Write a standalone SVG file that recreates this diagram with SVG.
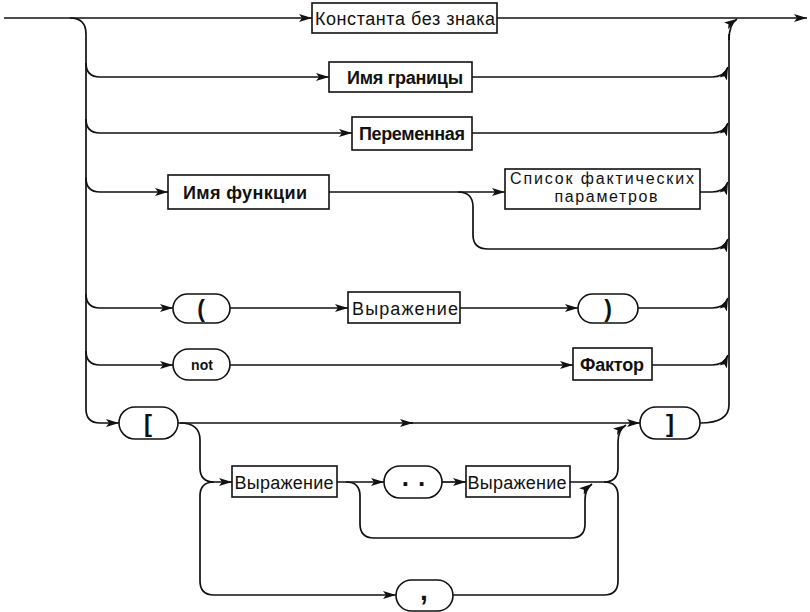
<svg xmlns="http://www.w3.org/2000/svg" width="810" height="612" viewBox="0 0 810 612">
<style>
.c{fill:none;stroke:#111;stroke-width:1.7}
.b{fill:#fff;stroke:#111;stroke-width:1.6}
.t{font-family:"Liberation Sans",Arial,sans-serif;font-size:18px;fill:#111;text-anchor:middle}
.w{font-weight:bold}
.t2{font-size:16px}
.s{font-family:"Liberation Sans",Arial,sans-serif;font-weight:bold;fill:#111;text-anchor:middle}
</style>
<defs>
<marker id="a" viewBox="0 0 13 8" refX="13" refY="4" markerWidth="13" markerHeight="8" orient="auto" markerUnits="userSpaceOnUse">
<path d="M0,0 L13,4 L0,8 L3,4 z" fill="#111"/>
</marker>
</defs>
<rect width="810" height="612" fill="#fff"/>
<g id="connectors">
<path class="c" d="M4,18 H312" marker-end="url(#a)"/>
<path class="c" d="M497,18 H807" marker-end="url(#a)"/>
<path class="c" d="M70,18 Q86,18 86,34 V409 Q86,423 100,423 H119" marker-end="url(#a)"/>
<path class="c" d="M86,63 Q86,77 100,77 H329" marker-end="url(#a)"/>
<path class="c" d="M86,119 Q86,133 100,133 H352" marker-end="url(#a)"/>
<path class="c" d="M86,178 Q86,192 100,192 H168" marker-end="url(#a)"/>
<path class="c" d="M86,294 Q86,308 100,308 H173" marker-end="url(#a)"/>
<path class="c" d="M86,351 Q86,365 100,365 H173" marker-end="url(#a)"/>
<path class="c" d="M700,423 Q729,423 729,405 V34"/>
<path class="c" d="M729,40 Q729,24 737,19" marker-end="url(#a)"/>
<path class="c" d="M472,77 H712 Q724,77 728,67" marker-end="url(#a)"/>
<path class="c" d="M472,133 H712 Q724,133 728,123" marker-end="url(#a)"/>
<path class="c" d="M329,192 H505" marker-end="url(#a)"/>
<path class="c" d="M700,192 H712 Q724,192 728,182" marker-end="url(#a)"/>
<path class="c" d="M458,192 Q473,192 473,207 V235 Q473,249 488,249 H712 Q724,249 728,239" marker-end="url(#a)"/>
<path class="c" d="M230,308 H348" marker-end="url(#a)"/>
<path class="c" d="M460,308 H578" marker-end="url(#a)"/>
<path class="c" d="M638,308 H712 Q724,308 728,298" marker-end="url(#a)"/>
<path class="c" d="M230,365 H573" marker-end="url(#a)"/>
<path class="c" d="M652,365 H712 Q724,365 728,355" marker-end="url(#a)"/>
<path class="c" d="M178,423 H413" marker-end="url(#a)"/>
<path class="c" d="M410,423 H640" marker-end="url(#a)"/>
<path class="c" d="M180,423 Q200,423 200,440 V468 Q200,482 214,482 H232" marker-end="url(#a)"/>
<path class="c" d="M214,482 Q200,482 200,496 V581 Q200,595 214,595 H396" marker-end="url(#a)"/>
<path class="c" d="M337,482 H384" marker-end="url(#a)"/>
<path class="c" d="M442,482 H466" marker-end="url(#a)"/>
<path class="c" d="M346,482 Q360,482 360,496 V524 Q360,538 374,538 H571 Q585,538 585,524 V500 Q585,489 592,484" marker-end="url(#a)"/>
<path class="c" d="M570,482 H604 Q618,482 618,468 V442 Q618,430 626,425" marker-end="url(#a)"/>
<path class="c" d="M604,482 Q618,482 618,496 V581 Q618,595 604,595 H453"/>
</g>
<g id="n1"><rect class="b" x="312" y="3" width="185" height="30"/><text class="t" x="405" y="24.5" textLength="180" lengthAdjust="spacing">Константа без знака</text></g>
<g id="n2"><rect class="b" x="329" y="62" width="143" height="30"/><text class="t w" x="405" y="83.5" textLength="116" lengthAdjust="spacing">Имя границы</text></g>
<g id="n3"><rect class="b" x="352" y="117" width="120" height="33"/><text class="t w" x="412" y="139.5" textLength="106" lengthAdjust="spacing">Переменная</text></g>
<g id="n4"><rect class="b" x="168" y="175" width="161" height="34"/><text class="t w" x="245" y="198.5" textLength="124" lengthAdjust="spacing">Имя функции</text></g>
<g id="n5"><rect class="b" x="505" y="169" width="195" height="40"/><text class="t t2" x="602" y="184" textLength="184" lengthAdjust="spacing">Список фактических</text><text class="t t2" x="606" y="201.5" textLength="103" lengthAdjust="spacing">параметров</text></g>
<g id="n6"><rect class="b" x="173" y="294" width="57" height="29" rx="14.5"/><text class="s" x="201" y="317" font-size="23">(</text></g>
<g id="n7"><rect class="b" x="348" y="292" width="112" height="31"/><text class="t" x="405" y="314.5" textLength="106" lengthAdjust="spacing">Выражение</text></g>
<g id="n8"><rect class="b" x="578" y="294" width="60" height="29" rx="14.5"/><text class="s" x="608" y="317" font-size="23">)</text></g>
<g id="n9"><rect class="b" x="173" y="349" width="57" height="31" rx="15.5"/><text class="s" x="202" y="370" font-size="14">not</text></g>
<g id="n10"><rect class="b" x="573" y="348" width="79" height="32"/><text class="t w" x="612" y="371" textLength="64" lengthAdjust="spacing">Фактор</text></g>
<g id="n11"><rect class="b" x="119" y="407" width="59" height="32" rx="16"/><text class="s" x="148" y="432" font-size="24">[</text></g>
<g id="n12"><rect class="b" x="640" y="407" width="60" height="32" rx="16"/><text class="s" x="670" y="432" font-size="24">]</text></g>
<g id="n13"><rect class="b" x="232" y="466" width="105" height="31"/><text class="t" x="284" y="488.5" textLength="99" lengthAdjust="spacing">Выражение</text></g>
<g id="n14"><rect class="b" x="384" y="466" width="58" height="32" rx="16"/><text class="s" x="418" y="486" font-size="26" letter-spacing="9">..</text></g>
<g id="n15"><rect class="b" x="466" y="466" width="104" height="31"/><text class="t" x="517" y="488.5" textLength="99" lengthAdjust="spacing">Выражение</text></g>
<g id="n16"><rect class="b" x="396" y="580" width="57" height="31" rx="15.5"/><text class="s" x="424" y="600" font-size="28">,</text></g>
</svg>
